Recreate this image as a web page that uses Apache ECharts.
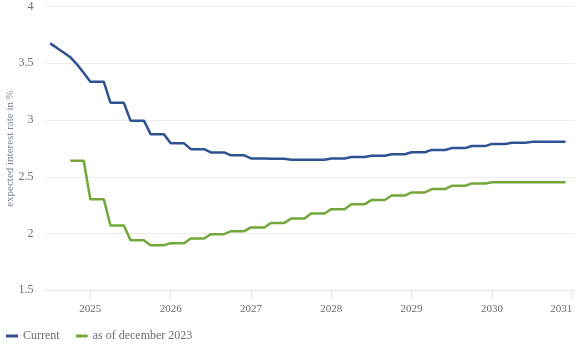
<!DOCTYPE html>
<html>
<head>
<meta charset="utf-8">
<script src="https://cdn.jsdelivr.net/npm/echarts@6/dist/echarts.min.js"></script>
<style>
  html, body { margin: 0; padding: 0; background: #ffffff; }
  #chart { width: 580px; height: 349px; }
</style>
</head>
<body>
<div id="chart"></div>
<script>
// Expected interest rate path (monthly points, % p.a.)
const currentStart = '2024-07';
const currentValues = [
  3.676, 3.636, 3.595, 3.554, 3.491, 3.417,             // 2024 H2
  3.338, 3.338, 3.338, 3.153, 3.153, 3.153,             // 2025
  2.995, 2.995, 2.995, 2.876, 2.876, 2.876,
  2.795, 2.795, 2.795, 2.744, 2.744, 2.744,             // 2026
  2.715, 2.715, 2.715, 2.689, 2.689, 2.689,
  2.662, 2.662, 2.662, 2.660, 2.660, 2.660,             // 2027
  2.651, 2.651, 2.651, 2.651, 2.651, 2.651,
  2.662, 2.662, 2.662, 2.674, 2.674, 2.674,             // 2028
  2.686, 2.686, 2.686, 2.699, 2.699, 2.699,
  2.717, 2.717, 2.717, 2.737, 2.737, 2.737,             // 2029
  2.753, 2.753, 2.753, 2.771, 2.771, 2.771,
  2.790, 2.790, 2.790, 2.800, 2.800, 2.800,             // 2030
  2.808, 2.808, 2.808, 2.808, 2.808, 2.808
];

const dec2023Start = '2024-10';
const dec2023Values = [
  2.641, 2.641, 2.641,                                  // 2024 Q4
  2.303, 2.303, 2.303, 2.071, 2.071, 2.071,             // 2025
  1.942, 1.942, 1.942, 1.898, 1.898, 1.898,
  1.915, 1.915, 1.915, 1.957, 1.957, 1.957,             // 2026
  1.995, 1.995, 1.995, 2.021, 2.021, 2.021,
  2.054, 2.054, 2.054, 2.094, 2.094, 2.094,             // 2027
  2.133, 2.133, 2.133, 2.177, 2.177, 2.177,
  2.215, 2.215, 2.215, 2.259, 2.259, 2.259,             // 2028
  2.295, 2.295, 2.295, 2.335, 2.335, 2.335,
  2.362, 2.362, 2.362, 2.392, 2.392, 2.392,             // 2029
  2.421, 2.421, 2.421, 2.442, 2.442, 2.442,
  2.453, 2.453, 2.453, 2.453, 2.453, 2.453,             // 2030
  2.453, 2.453, 2.453, 2.453, 2.453, 2.453
];

const yearTicks = [2025, 2026, 2027, 2028, 2029, 2030, 2031];
const seriesNames = ['Current', 'as of december 2023'];
const yAxisTitle = 'expected interest rate in %';

// month index -> fractional year on the value axis
function toPoints(start, values) {
  const [y0, m0] = start.split('-').map(Number);
  return values.map((v, i) => {
    const m = (m0 - 1) + i;
    return [y0 + m / 12, v];
  });
}

const FONT = '"Liberation Serif", serif';
const chart = echarts.init(document.getElementById('chart'), null, { renderer: 'canvas' });

chart.setOption({
  animation: false,
  backgroundColor: '#ffffff',
  grid: { left: 44.6, right: 5, top: 6.6, bottom: 58.7, outerBoundsMode: 'none', containLabel: false },
  legend: {
    left: 1,
    top: 325,
    itemWidth: 12,
    itemHeight: 3,
    itemGap: 16,
    icon: 'rect',
    textStyle: { fontFamily: FONT, fontSize: 12, color: '#6b6b6b' },
    data: seriesNames
  },
  xAxis: {
    type: 'value',
    min: 2024.43,
    max: 2031.035,
    axisLine: { show: true, lineStyle: { color: '#e9e9e9', width: 1 } },
    axisTick: { show: true, length: 9, lineStyle: { color: '#e6e6e6' }, customValues: yearTicks },
    axisLabel: {
      customValues: yearTicks,
      margin: 13,
      alignMaxLabel: 'right',
      fontFamily: FONT,
      fontSize: 11,
      color: '#6b6b6b',
      formatter: v => String(Math.round(v))
    },
    splitLine: { show: false }
  },
  yAxis: {
    type: 'value',
    min: 1.5,
    max: 4,
    interval: 0.5,
    name: yAxisTitle,
    nameLocation: 'middle',
    nameGap: 29,
    nameMoveOverlap: false,
    nameTextStyle: { fontFamily: FONT, fontSize: 11, color: '#7b8797' },
    axisLine: { show: false },
    axisTick: { show: false },
    axisLabel: { margin: 11, fontFamily: FONT, fontSize: 12, color: '#6b6b6b' },
    splitLine: { lineStyle: { color: '#ececec', width: 1 } }
  },
  series: [
    {
      name: seriesNames[0],
      type: 'line',
      data: toPoints(currentStart, currentValues),
      showSymbol: false,
      lineStyle: { color: '#2d5392', width: 2.5 },
      itemStyle: { color: '#2d5392' }
    },
    {
      name: seriesNames[1],
      type: 'line',
      data: toPoints(dec2023Start, dec2023Values),
      showSymbol: false,
      lineStyle: { color: '#72a83a', width: 2.5 },
      itemStyle: { color: '#72a83a' }
    }
  ]
});
</script>
</body>
</html>
